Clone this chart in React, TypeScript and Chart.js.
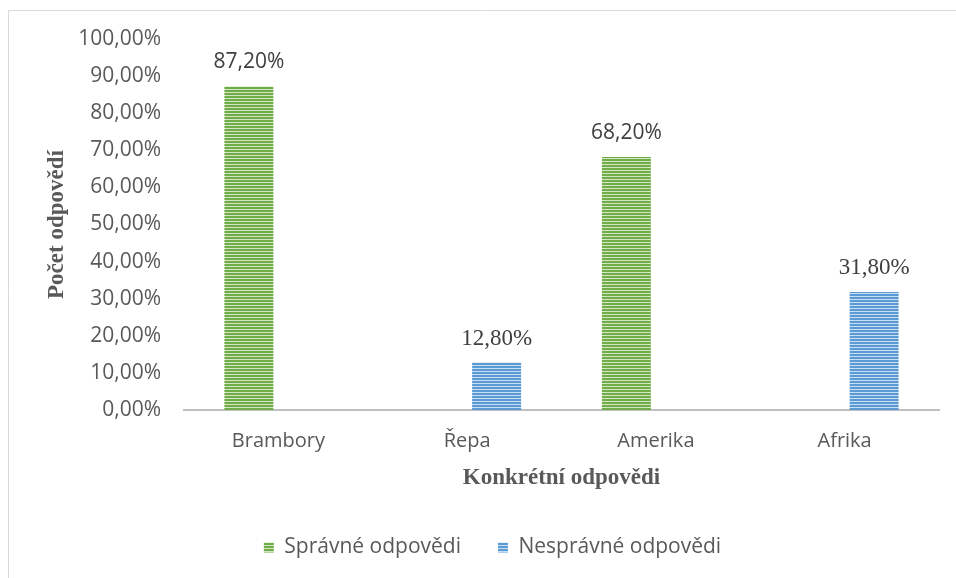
import React, { useEffect, useRef } from "react";
import { Chart, registerables } from "chart.js";

Chart.register(...registerables);

const categories = ["Brambory", "Řepa", "Amerika", "Afrika"];
const spravne: (number | null)[] = [87.2, null, 68.2, null];
const nespravne: (number | null)[] = [null, 12.8, null, 31.8];
const seriesNames = ["Správné odpovědi", "Nesprávné odpovědi"];
const yTitle = "Počet odpovědí";
const xTitle = "Konkrétní odpovědi";

const fmt = (v: number) => v.toFixed(2).replace(".", ",") + "%";

function stripes(dark: string, light: string): CanvasPattern | string {
  const c = document.createElement("canvas");
  c.width = 4;
  c.height = 3;
  const g = c.getContext("2d");
  if (!g) return dark;
  g.fillStyle = dark;
  g.fillRect(0, 0, 4, 2);
  g.fillStyle = light;
  g.fillRect(0, 2, 4, 1);
  return g.createPattern(c, "repeat") || dark;
}

const SANS = "'Open Sans', sans-serif";
const SERIF = "'Liberation Serif', 'Times New Roman', serif";

export default function App() {
  const ref = useRef<HTMLCanvasElement | null>(null);

  useEffect(() => {
    if (!ref.current) return;
    const green = stripes("#70ad47", "#d3e6c5");
    const blue = stripes("#5b9bd5", "#c9ddf1");

    const borderPlugin = {
      id: "outerBorder",
      beforeDraw(chart: any) {
        const ctx = chart.ctx;
        ctx.save();
        ctx.strokeStyle = "#d9d9d9";
        ctx.lineWidth = 1;
        ctx.beginPath();
        ctx.moveTo(8.5, chart.height);
        ctx.lineTo(8.5, 10.5);
        ctx.lineTo(chart.width, 10.5);
        ctx.stroke();
        ctx.restore();
      },
    };

    const labelPlugin = {
      id: "valueLabels",
      afterDatasetsDraw(chart: any) {
        const ctx = chart.ctx;
        ctx.save();
        chart.data.datasets.forEach((ds: any, di: number) => {
          const meta = chart.getDatasetMeta(di);
          meta.data.forEach((el: any, i: number) => {
            const v = ds.data[i];
            if (v === null || v === undefined) return;
            ctx.font = di === 0 ? `21px ${SANS}` : `23px ${SERIF}`;
            ctx.fillStyle = "#404040";
            ctx.textAlign = "center";
            ctx.textBaseline = "middle";
            ctx.fillText(fmt(v), el.x, el.y - 24);
          });
        });
        ctx.restore();
      },
    };

    const chart = new Chart(ref.current, {
      type: "bar",
      data: {
        labels: categories,
        datasets: [
          { label: seriesNames[0], data: spravne, backgroundColor: green as any, borderWidth: 0 },
          { label: seriesNames[1], data: nespravne, backgroundColor: blue as any, borderWidth: 0 },
        ],
      },
      options: {
        animation: false,
        responsive: false,
        devicePixelRatio: 1,
        categoryPercentage: 0.625,
        barPercentage: 0.83,
        layout: { padding: { top: 39, right: 17, left: 46, bottom: 10 } },
        plugins: {
          tooltip: { enabled: false },
          legend: {
            position: "bottom",
            labels: {
              boxWidth: 10,
              boxHeight: 10,
              padding: 37,
              color: "#595959",
              font: { family: SANS, size: 21 },
            },
          },
        },
        scales: {
          x: {
            grid: { display: false, drawTicks: false },
            border: { display: true, color: "#bfbfbf", width: 2 },
            ticks: { color: "#595959", font: { family: SANS, size: 20 }, padding: 19 },
            title: {
              display: true,
              text: xTitle,
              color: "#595959",
              font: { family: SERIF, size: 23, weight: "bold" },
              padding: { top: 0, bottom: 8 },
            },
            afterFit(scale: any) {
              scale.height = 90;
            },
          },
          y: {
            min: 0,
            max: 100,
            grid: { display: false, drawTicks: false },
            border: { display: false },
            ticks: {
              stepSize: 10,
              color: "#595959",
              font: { family: SANS, size: 21 },
              padding: 23,
              callback: (v: any) => fmt(Number(v)),
            },
            title: {
              display: true,
              text: yTitle,
              color: "#595959",
              font: { family: SERIF, size: 23, weight: "bold" },
              padding: { top: -3, bottom: 0 },
            },
            afterFit(scale: any) {
              scale.width = 138;
            },
          },
        },
      },
      plugins: [borderPlugin, labelPlugin],
    });
    return () => chart.destroy();
  }, []);

  return (
    <div style={{ position: "fixed", left: 0, top: 0, width: 956, height: 578, background: "#fff" }}>
      <canvas ref={ref} width={956} height={578} style={{ width: 956, height: 578, display: "block" }} />
    </div>
  );
}
